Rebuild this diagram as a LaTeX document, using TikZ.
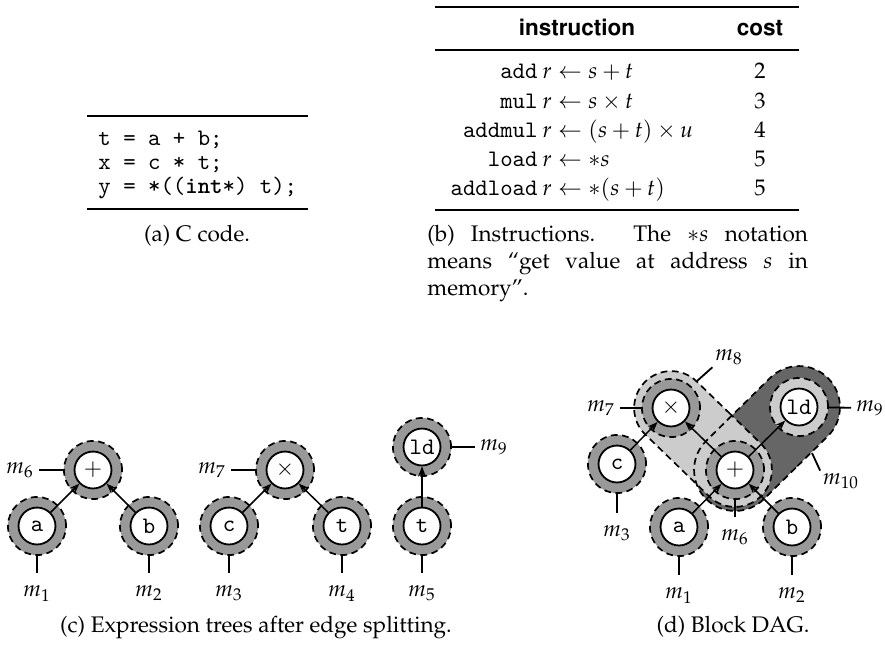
\documentclass[tikz,border=0pt]{standalone}
\usepackage[T1]{fontenc}
\usepackage{mathpazo}
\usepackage{helvet}
\usetikzlibrary{calc,arrows.meta,shapes.misc}
\definecolor{matchgray}{RGB}{153,153,153}
\definecolor{lightmatch}{RGB}{204,204,204}
\definecolor{darkmatch}{RGB}{102,102,102}
\newcommand{\code}[1]{{\fontencoding{TU}\fontfamily{lmtt}\fontsize{10.5}{12.6}\selectfont #1}}
\newcommand{\codebf}[1]{{\fontseries{b}\selectfont #1}}

\tikzset{
  opnode/.style={circle, draw, fill=white, line width=0.8pt, minimum size=16.4pt, inner sep=0pt},
  matchring/.style={circle, draw, fill=matchgray, line width=0.75pt, dash pattern=on 3pt off 2pt, minimum size=25.8pt, inner sep=0pt},
  matchpill/.style={rounded rectangle, inner sep=0pt, line width=0.75pt, dash pattern=on 3pt off 2pt},
  mlab/.style={inner xsep=2pt, inner ysep=5.5pt},
  mlabside/.style={inner sep=1pt},
  flow/.style={-{Stealth[length=4.5pt,width=3.4pt]}, line width=0.65pt},
  tick/.style={line width=0.8pt},
  rulethick/.style={line width=0.8pt},
}

\begin{document}
\begin{tikzpicture}[x=0.444pt, y=-0.444pt]
\useasboundingbox (0,0) rectangle (885,644);

% (a) C code
\draw[rulethick] (87,116) -- (308,116);
\node[anchor=base west, inner sep=0pt] (cline1) at (98,145) {\code{t = a + b;}};
\node[anchor=base west, inner sep=0pt] (cline2) at (98,169) {\code{x = c * t;}};
\node[anchor=base west, inner sep=0pt] (cline3) at (98,193) {\code{y = *((\codebf{int}*) t);}};
\draw[rulethick] (87,209) -- (308,209);
\node[anchor=base] (capa) at (197,241) {(a) C code.};

% (b) instruction table
\draw[rulethick] (435,7) -- (799,7);
\node[anchor=base, font=\sffamily\bfseries] (hinstr) at (577,35) {instruction};
\node[anchor=base, font=\sffamily\bfseries] (hcost) at (760,35) {cost};
\draw[line width=0.5pt] (435,50) -- (799,50);
\foreach \mn/\op/\c/\y [count=\i] in {add/{s+t}/2/78, mul/{s\times t}/3/108,
    addmul/{(s+t)\times u}/4/137, load/{*s}/5/166, addload/{*(s+t)}/5/195} {
  \node[anchor=base east, inner sep=0pt] (mn\i) at (538,\y) {\code{\mn}};
  \node[anchor=base west, inner sep=0pt] (op\i) at (542,\y) {$r \leftarrow \op$};
  \node[anchor=base] (cost\i) at (760,\y) {\c};
}
\draw[rulethick] (435,210) -- (799,210);
\node[anchor=base west, inner sep=0pt] (capb1) at (427,241) {\makebox[169pt][s]{(b) Instructions. The $\ast s$ notation}};
\node[anchor=base west, inner sep=0pt] (capb2) at (427,268) {\makebox[169pt][s]{means ``get value at address $s$ in}};
\node[anchor=base west, inner sep=0pt] (capb3) at (427,295) {memory''.};

% (c) expression trees
\foreach \n/\x/\y/\t in {add1/93/470/$+$, a1/37/526/\code{a}, b1/149/526/\code{b},
    mul1/285/470/$\times$, c1/229/526/\code{c}, t1/342/526/\code{t},
    ld1/422/447/\code{ld}, t2/422/526/\code{t}} {
  \node[matchring] (r\n) at (\x,\y) {};
  \node[opnode] (\n) at (\x,\y) {\t};
}
\draw[flow] (a1) -- (add1);
\draw[flow] (b1) -- (add1);
\draw[flow] (c1) -- (mul1);
\draw[flow] (t1) -- (mul1);
\draw[flow] (t2) -- (ld1);

\node[mlab] (m6c) at (20,470) {$m_6$};
\node[mlab] (m7c) at (212,470) {$m_7$};
\node[mlab] (m9c) at (494,447) {$m_9$};
\node[mlab] (m1c) at (37,593.5) {$m_1$};
\node[mlab] (m2c) at (149,593.5) {$m_2$};
\node[mlab] (m3c) at (229,593.5) {$m_3$};
\node[mlab] (m4c) at (342,593.5) {$m_4$};
\node[mlab] (m5c) at (422,593.5) {$m_5$};
\draw[tick] (radd1) -- (m6c);
\draw[tick] (rmul1) -- (m7c);
\draw[tick] (rld1) -- (m9c);
\draw[tick] (ra1) -- (m1c);
\draw[tick] (rb1) -- (m2c);
\draw[tick] (rc1) -- (m3c);
\draw[tick] (rt1) -- (m4c);
\draw[tick] (rt2) -- (m5c);
\node[anchor=base] (capc) at (256,632) {(c) Expression trees after edge splitting.};

% (d) block DAG
\coordinate (pmul) at (671,408);
\coordinate (pld) at (799,407);
\coordinate (pc) at (617,464);
\coordinate (padd) at (735,470);
\coordinate (pa) at (679,527);
\coordinate (pb) at (792,527);

% pattern fills first, dashed borders on top of both
\foreach \nm/\from/\to/\rad/\col in {m10/pld/padd/18.2pt/darkmatch, m8/pmul/padd/16.4pt/lightmatch}
  \path let \p1=(\from), \p2=(\to), \n1={atan2(\y2-\y1,\x2-\x1)},
      \n2={veclen(\x2-\x1,\y2-\y1)+2*\rad}, \n3={2*\rad} in
    node[matchpill, fill=\col, minimum width=\n2, minimum height=\n3, rotate=\n1]
      (\nm-bg) at ($(\from)!0.5!(\to)$) {};
\foreach \nm/\from/\to/\rad in {m10/pld/padd/18.2pt, m8/pmul/padd/16.4pt}
  \path let \p1=(\from), \p2=(\to), \n1={atan2(\y2-\y1,\x2-\x1)},
      \n2={veclen(\x2-\x1,\y2-\y1)+2*\rad}, \n3={2*\rad} in
    node[matchpill, draw, minimum width=\n2, minimum height=\n3, rotate=\n1]
      (\nm-edge) at ($(\from)!0.5!(\to)$) {};

\foreach \n/\pos/\t in {mul2/pmul/$\times$, c2/pc/\code{c}, add2/padd/$+$,
    a2/pa/\code{a}, b2/pb/\code{b}} {
  \node[matchring] (r\n) at (\pos) {};
  \node[opnode] (\n) at (\pos) {\t};
}
\node[matchring, fill=lightmatch] (rld2) at (pld) {};
\node[opnode] (ld2) at (pld) {\code{ld}};

\draw[flow] (c2) -- (mul2);
\draw[flow] (add2) -- (mul2);
\draw[flow] (add2) -- (ld2);
\draw[flow] (a2) -- (add2);
\draw[flow] (b2) -- (add2);

\node[mlab] (m7d) at (601,408) {$m_7$};
\node[mlab] (m9d) at (870,408) {$m_9$};
\node[mlab] (m3d) at (617,533.5) {$m_3$};
\node[mlab] (m6d) at (735,537.5) {$m_6$};
\node[mlab] (m1d) at (679,595.5) {$m_1$};
\node[mlab] (m2d) at (792,595.5) {$m_2$};
\node[mlabside] (m8d) at (729,357) {$m_8$};
\node[mlabside] (m10d) at (841,481) {$m_{10}$};
\coordinate (m8end) at (697,381);
\coordinate (m10end) at (812,453);
\draw[tick] (rmul2) -- (m7d);
\draw[tick] (rld2) -- (m9d);
\draw[tick] (rc2) -- (m3d);
\draw[tick] (radd2) -- (m6d);
\draw[tick] (ra2) -- (m1d);
\draw[tick] (rb2) -- (m2d);
\draw[tick] (m8end) -- (m8d.south west);
\draw[tick] (m10end) -- (m10d.north west);
\node[anchor=base] (capd) at (733,632) {(d) Block DAG.};
\end{tikzpicture}
\end{document}
